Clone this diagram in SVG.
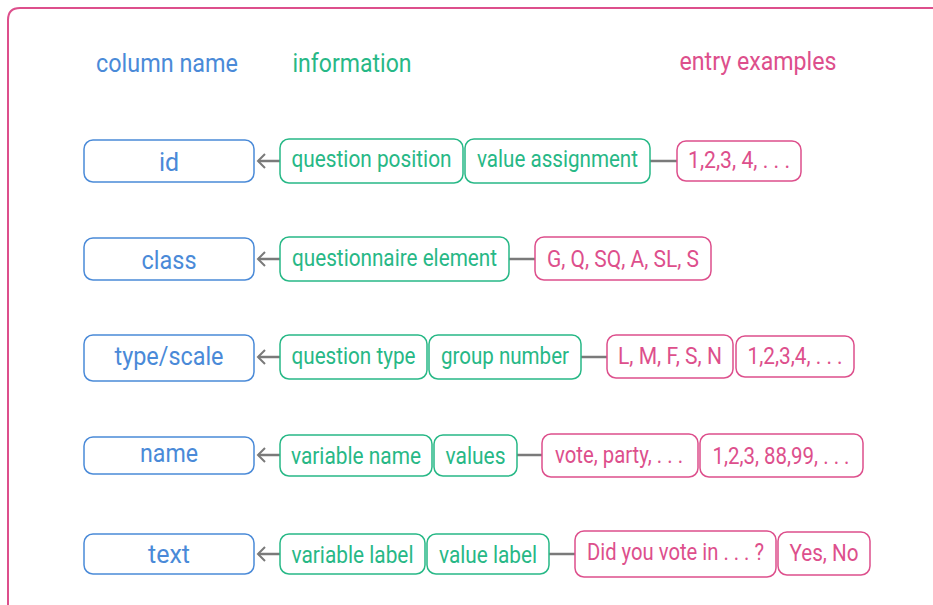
<svg xmlns="http://www.w3.org/2000/svg" width="933" height="605" viewBox="0 0 933 605">
<defs>
<style>
text{font-family:Roboto,"Liberation Sans",sans-serif;font-size:21px;text-anchor:middle}
.h{font-size:25px}
.hb{fill:#4a8ad8}.hg{fill:#27b886}.hp{fill:#dd4f8c}
.b rect{fill:#fff;stroke:#4a8ad8;stroke-width:1.5}
.b text{fill:#4a8ad8;font-size:25px}
.g rect{fill:#fff;stroke:#27b886;stroke-width:1.5}
.g text{fill:#27b886;font-size:24px}
.p rect{fill:#fff;stroke:#dd4f8c;stroke-width:1.5}
.p text{fill:#dd4f8c;font-size:23px}
.c line{stroke:#7a7a7a;stroke-width:2.5}
.c path{fill:none;stroke:#7a7a7a;stroke-width:2}
</style>
</defs>
<rect x="0" y="0" width="933" height="605" fill="#fff"/>
<path d="M8 620 V20 Q8 8 20 8 H950" fill="none" stroke="#dd4f8c" stroke-width="2"/>
<g id="headers">
<text class="h hb" x="167" y="72" textLength="142" lengthAdjust="spacingAndGlyphs">column name</text>
<text class="h hg" x="352" y="72" textLength="119" lengthAdjust="spacingAndGlyphs">information</text>
<text class="h hp" x="758" y="70" textLength="157" lengthAdjust="spacingAndGlyphs">entry examples</text>
</g>
<g class="c" id="connectors">
<line x1="280" y1="161" x2="258" y2="161"/><path d="M265 154 L258 161 L265 168"/>
<line x1="650" y1="161" x2="677" y2="161"/>
<line x1="280" y1="259" x2="258" y2="259"/><path d="M265 252 L258 259 L265 266"/>
<line x1="509" y1="259" x2="535" y2="259"/>
<line x1="280" y1="357" x2="258" y2="357"/><path d="M265 350 L258 357 L265 364"/>
<line x1="581" y1="357" x2="607" y2="357"/>
<line x1="280" y1="455" x2="258" y2="455"/><path d="M265 448 L258 455 L265 462"/>
<line x1="517" y1="455" x2="542" y2="455"/>
<line x1="280" y1="554" x2="258" y2="554"/><path d="M265 547 L258 554 L265 561"/>
<line x1="549" y1="554" x2="575" y2="554"/>
</g>
<!-- row 1 -->
<g id="n-id" class="b"><rect x="84" y="140" width="170" height="42" rx="9"/><text x="169" y="171">id</text></g>
<g id="n-qpos" class="g"><rect x="280" y="139" width="183" height="44" rx="9"/><text x="371.5" y="167" textLength="160" lengthAdjust="spacingAndGlyphs">question position</text></g>
<g id="n-vassign" class="g"><rect x="465" y="139" width="185" height="44" rx="9"/><text x="557.5" y="167" textLength="161" lengthAdjust="spacingAndGlyphs">value assignment</text></g>
<g id="n-ex1" class="p"><rect x="677" y="141" width="124" height="40" rx="9"/><text x="739" y="168" textLength="102" lengthAdjust="spacingAndGlyphs">1,2,3, 4, . . .</text></g>
<!-- row 2 -->
<g id="n-class" class="b"><rect x="84" y="238" width="170" height="42" rx="9"/><text x="169" y="269" textLength="55" lengthAdjust="spacingAndGlyphs">class</text></g>
<g id="n-qelem" class="g"><rect x="280" y="237" width="229" height="44" rx="9"/><text x="394.5" y="266" textLength="205" lengthAdjust="spacingAndGlyphs">questionnaire element</text></g>
<g id="n-ex2" class="p"><rect x="535" y="237" width="176" height="43" rx="9"/><text x="623" y="267" textLength="152" lengthAdjust="spacingAndGlyphs">G, Q, SQ, A, SL, S</text></g>
<!-- row 3 -->
<g id="n-type" class="b"><rect x="84" y="335" width="170" height="46" rx="9"/><text x="169" y="365" textLength="109" lengthAdjust="spacingAndGlyphs">type/scale</text></g>
<g id="n-qtype" class="g"><rect x="280" y="335" width="147" height="44" rx="9"/><text x="353.5" y="364" textLength="124" lengthAdjust="spacingAndGlyphs">question type</text></g>
<g id="n-gnum" class="g"><rect x="429" y="335" width="152" height="44" rx="9"/><text x="505" y="364" textLength="128" lengthAdjust="spacingAndGlyphs">group number</text></g>
<g id="n-ex3a" class="p"><rect x="607" y="335" width="126" height="43" rx="9"/><text x="670" y="364" textLength="104" lengthAdjust="spacingAndGlyphs">L, M, F, S, N</text></g>
<g id="n-ex3b" class="p"><rect x="736" y="336" width="118" height="41" rx="9"/><text x="795" y="364" textLength="95" lengthAdjust="spacingAndGlyphs">1,2,3,4, . . .</text></g>
<!-- row 4 -->
<g id="n-name" class="b"><rect x="84" y="437" width="170" height="37" rx="9"/><text x="169" y="462" textLength="58" lengthAdjust="spacingAndGlyphs">name</text></g>
<g id="n-vname" class="g"><rect x="280" y="435" width="152" height="41" rx="9"/><text x="356" y="464" textLength="130" lengthAdjust="spacingAndGlyphs">variable name</text></g>
<g id="n-values" class="g"><rect x="434" y="435" width="83" height="41" rx="9"/><text x="475.5" y="464" textLength="60" lengthAdjust="spacingAndGlyphs">values</text></g>
<g id="n-ex4a" class="p"><rect x="542" y="434" width="156" height="43" rx="9"/><text x="619" y="463" textLength="128" lengthAdjust="spacingAndGlyphs">vote, party, . . .</text></g>
<g id="n-ex4b" class="p"><rect x="700" y="434" width="163" height="43" rx="9"/><text x="781" y="464" textLength="137" lengthAdjust="spacingAndGlyphs">1,2,3, 88,99, . . .</text></g>
<!-- row 5 -->
<g id="n-text" class="b"><rect x="84" y="534" width="170" height="40" rx="9"/><text x="169" y="563" textLength="42" lengthAdjust="spacingAndGlyphs">text</text></g>
<g id="n-vlabel" class="g"><rect x="280" y="534" width="145" height="40" rx="9"/><text x="352.5" y="563" textLength="122" lengthAdjust="spacingAndGlyphs">variable label</text></g>
<g id="n-vallabel" class="g"><rect x="427" y="534" width="122" height="40" rx="9"/><text x="488" y="563" textLength="98" lengthAdjust="spacingAndGlyphs">value label</text></g>
<g id="n-ex5a" class="p"><rect x="575" y="531" width="201" height="46" rx="9"/><text x="675.5" y="560" textLength="177" lengthAdjust="spacingAndGlyphs">Did you vote in . . . ?</text></g>
<g id="n-ex5b" class="p"><rect x="778" y="532" width="92" height="43" rx="9"/><text x="824" y="561" textLength="69" lengthAdjust="spacingAndGlyphs">Yes, No</text></g>
</svg>
